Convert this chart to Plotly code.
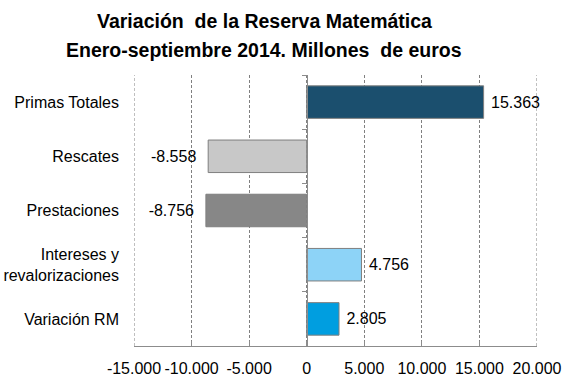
import plotly.graph_objects as go

categories = ["Primas Totales", "Rescates", "Prestaciones", "Intereses y<br>revalorizaciones", "Variación RM"]
values = [15363, -8558, -8756, 4756, 2805]
colors = ["#1B4F6E", "#C8C8C8", "#878787", "#8DD3F7", "#009EE0"]
tick_vals = [-15000, -10000, -5000, 0, 5000, 10000, 15000, 20000]
tick_text = ["-15.000", "-10.000", "-5.000", "0", "5.000", "10.000", "15.000", "20.000"]
title_lines = ["Variación\u00a0 de la Reserva Matemática", "Enero-septiembre 2014. Millones\u00a0 de euros"]

def fmt(v):
    s = f"{v:,}".replace(",", ".")
    return ("\u00a0" + s) if v >= 0 else (s + "\u00a0\u00a0")

labels = [fmt(v) for v in values]
cat_idx = list(range(len(categories)))
FONT = "Liberation Sans, Arial"
GRID = "#808080"

fig = go.Figure()
fig.add_trace(go.Bar(
    y=cat_idx, x=values, orientation="h",
    marker=dict(color=colors, line=dict(color="#7F7F7F", width=1)),
    text=labels, textposition="outside", cliponaxis=False,
    textfont=dict(family=FONT, size=16, color="#000000"),
    width=0.6, showlegend=False, hoverinfo="skip",
))
# invisible trace to activate the y axis drawn at x = 0
fig.add_trace(go.Scatter(x=[0], y=[0], yaxis="y2", mode="markers",
                         marker=dict(opacity=0), showlegend=False, hoverinfo="skip"))

zero_pos = (0 - tick_vals[0]) / (tick_vals[-1] - tick_vals[0])

# edge gridlines (plotly omits gridlines lying on the plot edges)
edge_shapes = [
    dict(type="line", xref="x", yref="paper", x0=v, x1=v, y0=0, y1=1,
         line=dict(color=GRID, width=1, dash="3px,2px"), layer="below")
    for v in (tick_vals[0], tick_vals[-1])
]

fig.update_layout(
    width=567, height=378,
    margin=dict(l=134, r=30, t=75, b=32),
    paper_bgcolor="white", plot_bgcolor="white",
    font=dict(family=FONT, size=16, color="#000000"),
    shapes=edge_shapes,
    annotations=[
        dict(text="<b>%s</b>" % title_lines[0], xref="paper", yref="paper",
             x=(264 - 134) / 403, y=1 + (75 - 21) / 271, xanchor="center", yanchor="middle",
             showarrow=False, font=dict(family=FONT, size=19.5, color="#000000")),
        dict(text="<b>%s</b>" % title_lines[1], xref="paper", yref="paper",
             x=(264 - 134) / 403, y=1 + (75 - 50) / 271, xanchor="center", yanchor="middle",
             showarrow=False, font=dict(family=FONT, size=19.5, color="#000000")),
    ],
    xaxis=dict(
        range=[tick_vals[0], tick_vals[-1]], tickvals=tick_vals, ticktext=tick_text,
        showgrid=True, gridcolor=GRID, griddash="3px,2px", gridwidth=1,
        zeroline=False, showline=True, linecolor="#8C8C8C", linewidth=1,
        ticks="inside", ticklen=5, tickcolor="#8C8C8C",
        ticklabelstandoff=8, tickfont=dict(size=16),
        automargin=False, fixedrange=True,
    ),
    yaxis=dict(
        range=[len(categories) - 0.5, -0.5], tickvals=cat_idx, ticktext=categories,
        showgrid=False, zeroline=False, showline=False, ticks="",
        ticklabelstandoff=14, tickfont=dict(size=16),
        automargin=False, fixedrange=True,
    ),
    yaxis2=dict(
        overlaying="y", anchor="free", position=zero_pos, side="left",
        range=[len(categories) - 0.5, -0.5],
        tickvals=[i - 0.5 for i in range(len(categories) + 1)],
        showticklabels=False, showgrid=False, zeroline=False,
        showline=True, linecolor="#8C8C8C", linewidth=1,
        ticks="outside", ticklen=5, tickcolor="#8C8C8C",
        automargin=False, fixedrange=True,
    ),
)

fig.write_html("out.html", config={"displayModeBar": False},
               post_script="document.body.style.margin='0';document.body.style.overflow='hidden';")
